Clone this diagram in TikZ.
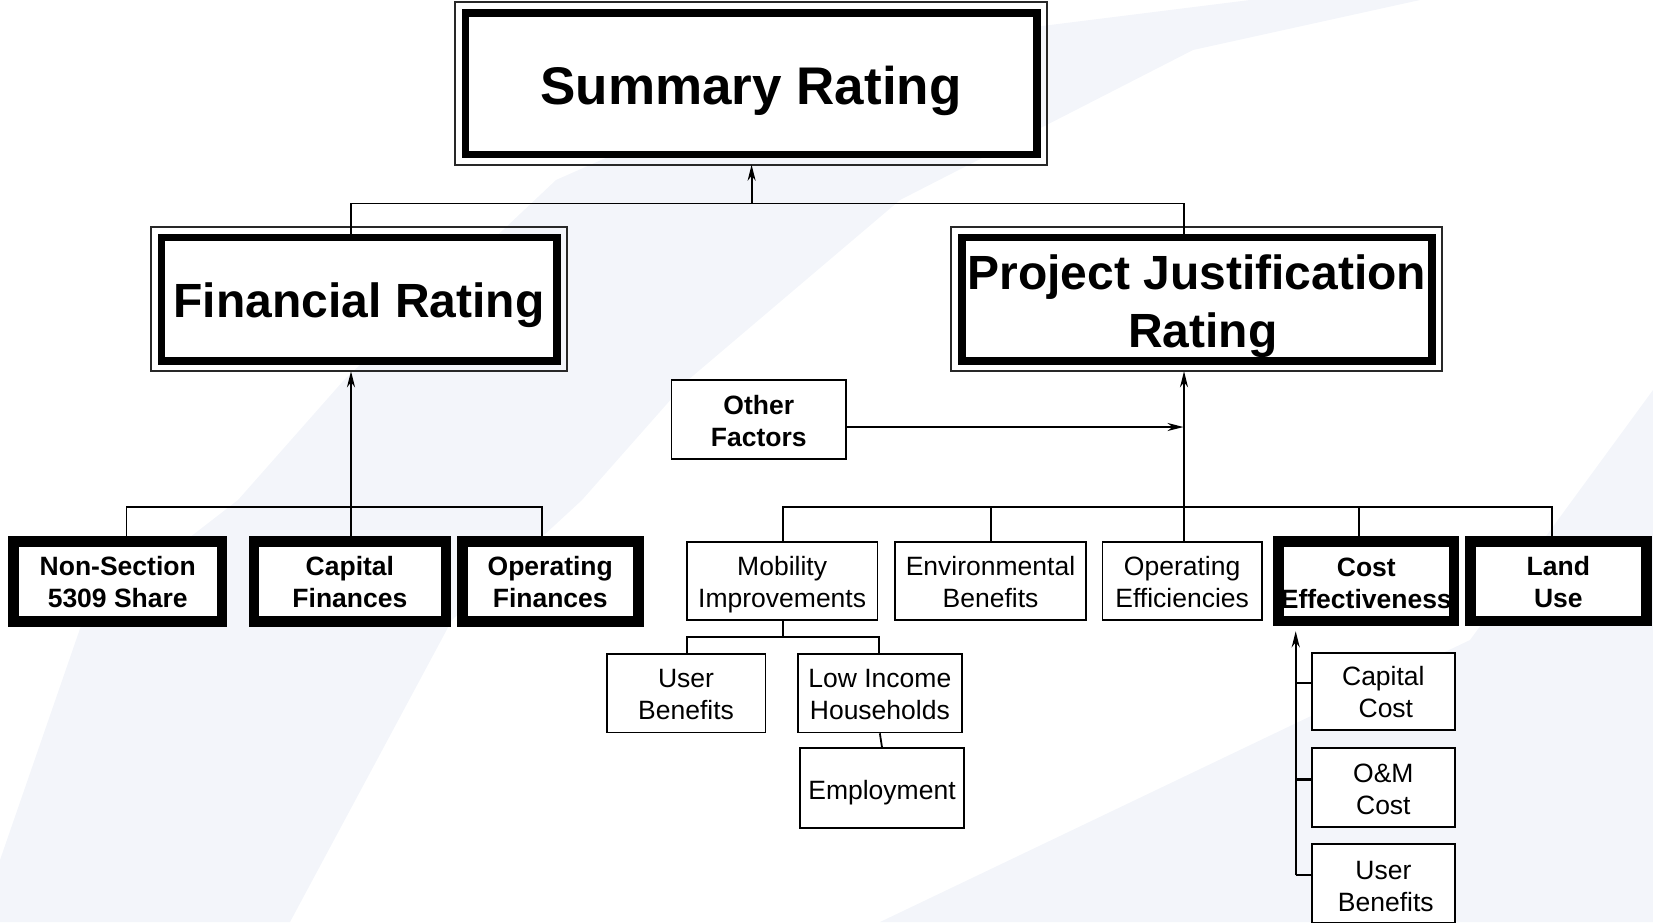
\documentclass[tikz,border=0pt]{standalone}
\usepackage{fontspec}
\setmainfont{Liberation Sans}
\usetikzlibrary{arrows.meta}
\newcommand\fsmall{\fontsize{26.5}{32}\selectfont}
\newcommand\fsmallb{\fontsize{26.5}{32}\selectfont\bfseries}
\newcommand\fmid{\fontsize{48}{58}\selectfont\bfseries}
\newcommand\fbig{\fontsize{53}{60}\selectfont\bfseries}
\newcommand\tstrut[1]{\rule{0pt}{#1pt}}
\definecolor{bgc}{RGB}{243,245,250}
\definecolor{framegray}{RGB}{40,40,40}
\tikzset{
  conn/.style={line width=1.8pt},
  arr/.style={conn,-{Stealth[length=16pt,width=8pt,inset=5pt]}},
  thinbox/.style={draw,fill=white,line width=1.8pt,inner sep=0pt,align=center,font=\fsmall},
  thickbox/.style={draw,fill=white,line width=10.5pt,inner sep=0pt,align=center,font=\fsmallb},
  dblbox/.style={draw,fill=white,line width=7.5pt,inner sep=0pt,align=center},
  outerframe/.style={line width=2.2pt,draw=framegray}
}
\begin{document}
\begin{tikzpicture}[x=1pt,y=-1pt]
\useasboundingbox (0,0) rectangle (1653,922);
% background swooshes
\fill[bgc] (-5,922) -- (0,860) -- (83,620) -- (238,500) -- (344,380) -- (556,180) -- (850,50) -- (1250,0) -- (1420,0) -- (1193,50) -- (900,200) -- (688,380) -- (582,500) -- (452,620) -- (290,922) -- cycle;
\fill[bgc] (880,922) -- (1470,640) -- (1653,390) -- (1653,922) -- cycle;

% top level
\node[dblbox,font=\fbig,minimum width=571.5,minimum height=141.5] (sr) at (751,83.5) {\tstrut{53}Summary Rating};
\draw[outerframe] ([shift={(-6.75,-6.75)}]sr.north west) rectangle ([shift={(6.75,6.75)}]sr.south east);
\node[dblbox,font=\fmid,minimum width=395.5,minimum height=123.5] (fr) at (359,299) {\tstrut{47.5}Financial Rating};
\draw[outerframe] ([shift={(-6.75,-6.75)}]fr.north west) rectangle ([shift={(6.75,6.75)}]fr.south east);
\node[dblbox,font=\fmid,minimum width=470,minimum height=123.5] (pj) at (1196.75,299) {\tstrut{49}Project Justification\\\hspace*{12pt}Rating};
\draw[outerframe] ([shift={(-6.75,-6.75)}]pj.north west) rectangle ([shift={(6.75,6.75)}]pj.south east);

\node[thinbox,font=\fsmallb,minimum width=174.7,minimum height=79.2] (of) at (758.75,419.5) {\tstrut{22.5}Other\\Factors};

% second row, left
\node[thickbox,minimum width=208.4,minimum height=80] (ns) at (117.75,581.25) {\tstrut{21.5}Non-Section\\5309 Share};
\node[thickbox,minimum width=191.7,minimum height=80] (cf) at (349.9,581.25) {\tstrut{21.5}Capital\\Finances};
\node[thickbox,minimum width=176,minimum height=80] (opf) at (550.25,581.25) {\tstrut{21.5}Operating\\Finances};

% second row, right
\node[thinbox,minimum width=190.5,minimum height=78.2] (mob) at (782.15,581) {\tstrut{27.3}Mobility\\Improvements};
\node[thinbox,minimum width=191.2,minimum height=78.2] (env) at (990.5,581) {\tstrut{21.5}Environmental\\Benefits};
\node[thinbox,minimum width=159.3,minimum height=78.2] (opeff) at (1182.15,581) {\tstrut{21.5}Operating\\Efficiencies};
\node[thickbox,minimum width=175.5,minimum height=79.5] (ce) at (1366.3,581) {\tstrut{22.5}Cost\\Effectiveness};
\node[thickbox,minimum width=176.2,minimum height=79.5] (lu) at (1558.35,581) {\tstrut{21.5}Land\\Use};

% mobility children
\node[thinbox,minimum width=158.8,minimum height=78.5] (ub) at (686,693.15) {\tstrut{21.5}User\\Benefits};
\node[thinbox,minimum width=163.9,minimum height=78.5] (li) at (879.85,693.15) {\tstrut{21.5}Low Income\\Households};
\node[thinbox,minimum width=164.2,minimum height=79.9] (emp) at (882,788.15) {\tstrut{27.3}Employment};

% cost children
\node[thinbox,minimum width=142.9,minimum height=77.5] (cc) at (1383.35,691.35) {\tstrut{21.5}Capital\\\hspace*{5pt}Cost};
\node[thinbox,minimum width=142.9,minimum height=78.6] (om) at (1383.35,787.5) {\tstrut{23}O\&M\\Cost};
\node[thinbox,minimum width=142.9,minimum height=78.2] (ub2) at (1383.35,883.3) {\tstrut{25.3}User\\\hspace*{5pt}Benefits};

% connectors top
\coordinate (jFR) at (351,203.5);
\coordinate (jSR) at (751.6,203.5);
\coordinate (jPJ) at (1184,203.5);
\draw[conn] (jFR |- fr.north) -- (jFR) -- (jPJ) -- (jPJ |- pj.north);
\draw[arr,shorten >=6.75pt] (jSR) -- (jSR |- sr.south);

% left group
\coordinate (jNS) at (126.5,507);
\coordinate (jCF) at (351,507);
\coordinate (jOpF) at (542.3,507);
\draw[conn] (jNS |- ns.north) -- (jNS) -- (jOpF) -- (jOpF |- opf.north);
\draw[conn] (jCF) -- (jCF |- cf.north);
\draw[arr,shorten >=6.75pt] (jCF) -- (jCF |- fr.south);

% right group
\coordinate (jMob) at (782.7,506.7);
\coordinate (jEnv) at (991,506.7);
\coordinate (jPJb) at (1184,506.7);
\coordinate (jCE) at (1359.3,506.7);
\coordinate (jLU) at (1551.7,506.7);
\draw[conn] (jMob |- mob.north) -- (jMob) -- (jLU) -- (jLU |- lu.north);
\draw[conn] (jEnv) -- (jEnv |- env.north);
\draw[conn] (jPJb) -- (jPJb |- opeff.north);
\draw[conn] (jCE) -- (jCE |- ce.north);
\draw[arr,shorten >=6.75pt] (jPJb) -- (jPJb |- pj.south);
\coordinate (jOF) at (1183.5,427);
\draw[arr] (of.east |- jOF) -- (jOF);

% mobility sub
\coordinate (jM) at (782.7,636.7);
\coordinate (jUB) at (686.7,636.7);
\coordinate (jLI) at (879,636.7);
\draw[conn] (jM |- mob.south) -- (jM);
\draw[conn] (jUB |- ub.north) -- (jUB) -- (jLI) -- (jLI |- li.north);
\draw[conn] (li.south) -- (emp.north);

% cost sub
\path ([yshift=8pt]cc.west) coordinate (tcc);
\path ([yshift=8pt]om.west) coordinate (tom);
\path ([yshift=8pt]ub2.west) coordinate (tub);
\coordinate (jC0) at (1295.7,875);
\draw[conn,line width=2.2pt] (tcc) -- (tcc -| jC0);
\draw[conn,line width=2.2pt] (tom) -- (tom -| jC0);
\draw[conn,line width=2.2pt] (tub) -- (tub -| jC0);
\draw[arr,line width=2.2pt,shorten >=5.25pt] (tub -| jC0) -- (jC0 |- ce.south);
\end{tikzpicture}
\end{document}
